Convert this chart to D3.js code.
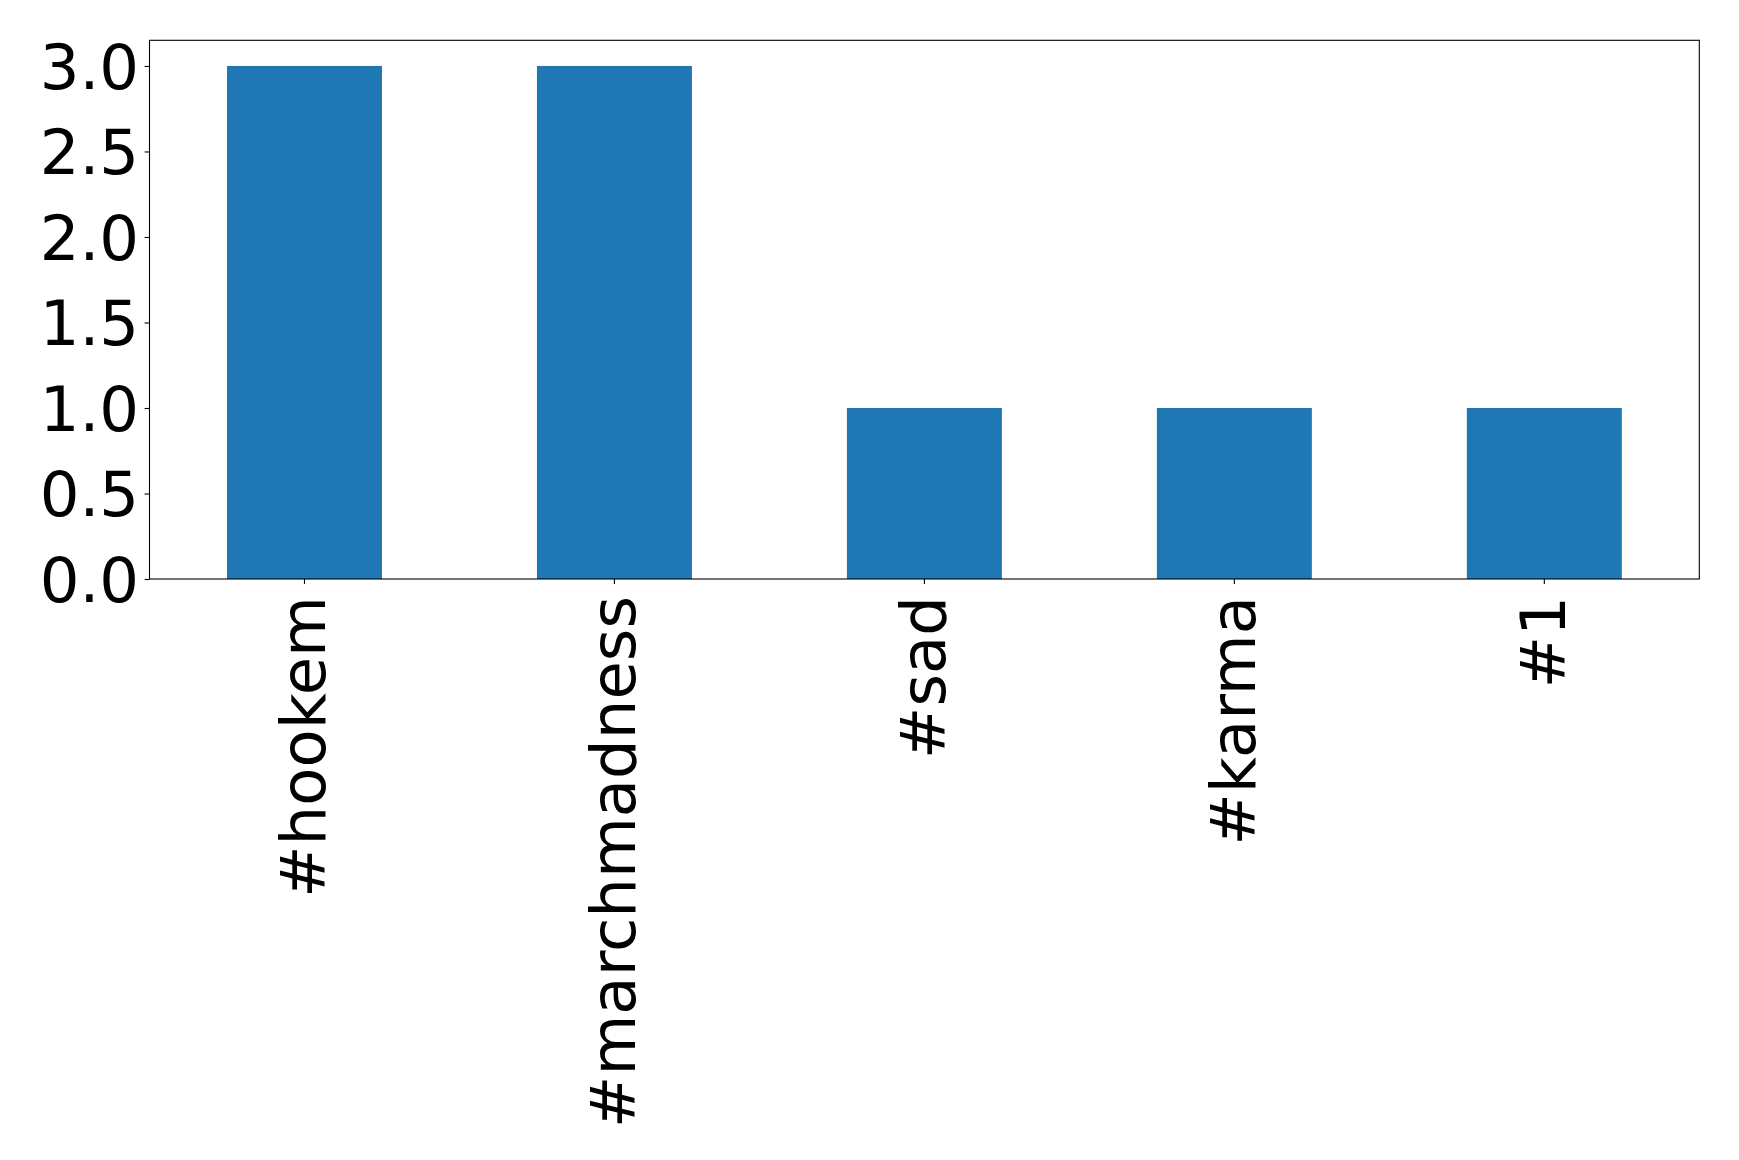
<!DOCTYPE html>
<html>
<head>
<meta charset="utf-8">
<script src="https://cdn.jsdelivr.net/npm/d3@7"></script>
<style>
  html, body { margin: 0; padding: 0; background: #fff; }
  svg { display: block; }
</style>
</head>
<body>
<svg id="chart" width="1739" height="1160"></svg>
<script>
const categories = ["#hookem", "#marchmadness", "#sad", "#karma", "#1"];
const counts = [3, 3, 1, 1, 1];
const yTicks = [0.0, 0.5, 1.0, 1.5, 2.0, 2.5, 3.0];

const W = 1739, H = 1160;
const margin = { left: 149.5, right: W - 1699.3, top: 40.3, bottom: H - 579 };
const iw = W - margin.left - margin.right;
const ih = H - margin.top - margin.bottom;
const FONT = "'DejaVu Sans', sans-serif";
const FS = 62.5;

const svg = d3.select("#chart");
const g = svg.append("g").attr("transform", `translate(${margin.left},${margin.top})`);

const x = d3.scaleBand().domain(categories).range([0, iw]).paddingInner(0.5).paddingOuter(0.25);
const yMax = d3.max(counts) * 1.05;
const y = d3.scaleLinear().domain([0, yMax]).range([ih, 0]);

g.selectAll("rect.bar").data(categories).enter().append("rect")
  .attr("class", "bar")
  .attr("x", d => x(d))
  .attr("width", x.bandwidth())
  .attr("y", (d, i) => y(counts[i]))
  .attr("height", (d, i) => ih - y(counts[i]))
  .attr("fill", "#1f77b4");

// y axis
const yAxis = g.append("g").call(
  d3.axisLeft(y).tickValues(yTicks).tickFormat(d3.format(".1f")).tickSize(4.9).tickPadding(5.5)
);
yAxis.select(".domain").remove();
yAxis.selectAll(".tick line").attr("stroke", "#000").attr("stroke-width", 1.1);
yAxis.selectAll(".tick text")
  .attr("font-family", FONT).attr("font-size", FS).attr("fill", "#000")
  .attr("dy", "0.36em");

// x axis
const xAxis = g.append("g").attr("transform", `translate(0,${ih})`).call(
  d3.axisBottom(x).tickSize(4.9).tickPadding(0)
);
xAxis.select(".domain").remove();
xAxis.selectAll(".tick line").attr("stroke", "#000").attr("stroke-width", 1.1);
xAxis.selectAll(".tick text")
  .attr("font-family", FONT).attr("font-size", FS).attr("fill", "#000")
  .attr("text-anchor", "end")
  .attr("transform", "translate(0,17) rotate(-90)")
  .attr("x", 0).attr("y", 0)
  .attr("dy", 21);

// frame
g.append("rect").attr("x", 0).attr("y", 0).attr("width", iw).attr("height", ih)
  .attr("fill", "none").attr("stroke", "#000").attr("stroke-width", 1.1);
</script>
</body>
</html>
